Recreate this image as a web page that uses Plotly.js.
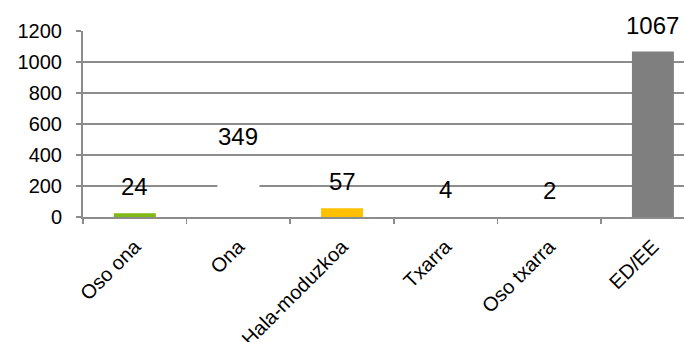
<!DOCTYPE html>
<html>
<head>
<meta charset="utf-8">
<script src="https://cdn.plot.ly/plotly-3.0.1.min.js"></script>
<style>html,body{margin:0;padding:0;background:#fff;}#chart{width:684px;height:342px;}</style>
</head>
<body>
<div id="chart"></div>
<script>
const categories = ["Oso ona", "Ona", "Hala-moduzkoa", "Txarra", "Oso txarra", "ED/EE"];
const values = [24, 349, 57, 4, 2, 1067];
const barColors = ["#80B914", "#FFFFFF", "#FFC000", "#FFFFFF", "#FFFFFF", "#7F7F7F"];
const yTicks = [0, 200, 400, 600, 800, 1000, 1200];

const FONT = "Arial, 'Liberation Sans', sans-serif";

const trace = {
  type: "bar",
  x: categories,
  y: values,
  marker: {color: barColors, line: {width: 0}},
  width: 0.405,
  hoverinfo: "none",
  cliponaxis: false
};

const annotations = categories.map((c, i) => ({
  x: c, y: values[i], xref: "x", yref: "y",
  text: String(values[i]),
  showarrow: false,
  yanchor: "bottom",
  yshift: 11,
  font: {family: FONT, size: 24, color: "#000"}
}));

const layout = {
  width: 684, height: 342,
  margin: {l: 83, r: 0, t: 31, b: 125},
  paper_bgcolor: "#fff", plot_bgcolor: "#fff",
  showlegend: false,
  bargap: 0.595,
  xaxis: {
    type: "category",
    range: [-0.5, 5.3],
    tickson: "boundaries",
    ticks: "outside", ticklen: 5, tickwidth: 1.5, tickcolor: "#8c8c8c",
    showline: true, linecolor: "#8c8c8c", linewidth: 2,
    showgrid: false, zeroline: false,
    tickangle: -45,
    ticklabelstandoff: 8,
    tickfont: {family: FONT, size: 20, color: "#000"},
    fixedrange: true
  },
  yaxis: {
    range: [0, 1200],
    tickvals: yTicks,
    ticktext: yTicks.map(String),
    ticks: "outside", ticklen: 5, tickwidth: 1.5, tickcolor: "#8c8c8c",
    showline: true, linecolor: "#8c8c8c", linewidth: 2,
    showgrid: true, gridcolor: "#8c8c8c", gridwidth: 2,
    zeroline: false,
    ticklabelstandoff: 10,
    tickfont: {family: FONT, size: 20, color: "#000"},
    fixedrange: true
  },
  annotations: annotations
};

Plotly.newPlot("chart", [trace], layout, {displayModeBar: false, staticPlot: true});
</script>
</body>
</html>
